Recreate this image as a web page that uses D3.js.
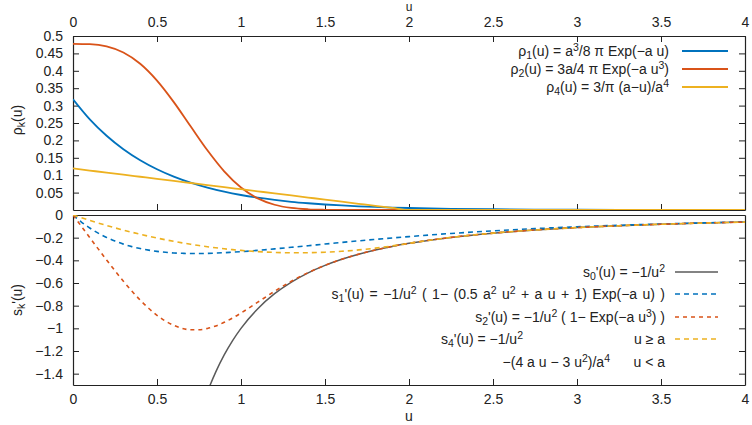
<!DOCTYPE html>
<html>
<head>
<meta charset="utf-8">
<script src="https://cdn.jsdelivr.net/npm/d3@7"></script>
<style>
    body { margin: 0; background: #fff; }
    svg { font-family: "Liberation Sans", Arial, Helvetica, sans-serif; }
    .axis text { font-size: 14px; fill: #222; }
    .axis line, .axis path { stroke: #222; }
    .label { font-size: 14px; fill: #222; }
    .legend text { font-size: 14px; fill: #222; }
</style>
</head>
<body>
<div id="chart"></div>
<script>
// --- data (a = 2) ---
const uTop = [0, 0.1, 0.2, 0.3, 0.4, 0.5, 0.6, 0.7, 0.8, 0.9, 1.0,
    1.1, 1.2, 1.3, 1.4, 1.5, 1.6, 1.7, 1.8, 1.9, 2.0,
    2.25, 2.5, 2.75, 3.0, 3.25, 3.5, 3.75, 4.0];
const rho1 = [0.3183, 0.2606, 0.2134, 0.1747, 0.1430, 0.1171, 0.0959, 0.0785, 0.0643, 0.0526, 0.0431,
    0.0353, 0.0289, 0.0236, 0.0194, 0.0158, 0.0130, 0.0106, 0.0087, 0.0071, 0.0058,
    0.0035, 0.0021, 0.0013, 0.0008, 0.0005, 0.0003, 0.0002, 0.0001];
const rho2 = [0.4775, 0.4765, 0.4699, 0.4524, 0.4201, 0.3718, 0.3100, 0.2404, 0.1715, 0.1111, 0.0646,
    0.0333, 0.0151, 0.0059, 0.0020, 0.0006, 0.0001, 0, 0, 0, 0,
    0, 0, 0, 0, 0, 0, 0, 0];
const rho4 = [0.1194, 0.1134, 0.1074, 0.1015, 0.0955, 0.0895, 0.0836, 0.0776, 0.0716, 0.0657, 0.0597,
    0.0537, 0.0477, 0.0418, 0.0358, 0.0298, 0.0239, 0.0179, 0.0119, 0.0060, 0,
    0, 0, 0, 0, 0, 0, 0, 0];

const uBot = [0, 0.05, 0.1, 0.15, 0.2, 0.25, 0.3, 0.35, 0.4, 0.45, 0.5,
    0.55, 0.6, 0.65, 0.7, 0.75, 0.8, 0.85, 0.9, 0.95, 1.0,
    1.1, 1.2, 1.3, 1.4, 1.5, 1.6, 1.7, 1.8, 1.9, 2.0,
    2.25, 2.5, 2.75, 3.0, 3.25, 3.5, 3.75, 4.0];
const s0 = [null, null, null, null, null, null, null, null, null, null, null,
    null, null, null, null, -1.7778, -1.5625, -1.3841, -1.2346, -1.1080, -1.0,
    -0.8264, -0.6944, -0.5917, -0.5102, -0.4444, -0.3906, -0.3460, -0.3086, -0.2770, -0.25,
    -0.1975, -0.16, -0.1322, -0.1111, -0.0947, -0.0816, -0.0711, -0.0625];
const s1 = [0, -0.0619, -0.1148, -0.160, -0.198, -0.230, -0.257, -0.279, -0.296, -0.310, -0.321,
    -0.329, -0.335, -0.338, -0.340, -0.340, -0.3385, -0.336, -0.3326, -0.328, -0.3233,
    -0.312, -0.299, -0.285, -0.271, -0.256, -0.242, -0.228, -0.215, -0.2025, -0.1905,
    -0.163, -0.140, -0.1205, -0.1042, -0.0906, -0.0792, -0.0697, -0.0616];
const s2 = [0, -0.100, -0.1998, -0.299, -0.397, -0.492, -0.584, -0.671, -0.751, -0.823, -0.885,
    -0.936, -0.974, -1.000, -1.013, -1.013, -1.001, -0.979, -0.947, -0.909, -0.865,
    -0.769, -0.673, -0.584, -0.508, -0.444, -0.3905, -0.346, -0.3086, -0.2770, -0.25,
    -0.1975, -0.16, -0.1322, -0.1111, -0.0947, -0.0816, -0.0711, -0.0625];
const s4 = [0, -0.0245, -0.0481, -0.0708, -0.0925, -0.1133, -0.1331, -0.1520, -0.17, -0.1870, -0.2031,
    -0.2183, -0.2325, -0.2458, -0.2581, -0.2695, -0.28, -0.2895, -0.2981, -0.3058, -0.3125,
    -0.3231, -0.33, -0.3331, -0.3325, -0.3281, -0.32, -0.3081, -0.2925, -0.2731, -0.25,
    -0.1975, -0.16, -0.1322, -0.1111, -0.0947, -0.0816, -0.0711, -0.0625];

const xTicks = [0, 0.5, 1, 1.5, 2, 2.5, 3, 3.5, 4];
const yTicksTop = [0.05, 0.1, 0.15, 0.2, 0.25, 0.3, 0.35, 0.4, 0.45, 0.5];
const yTicksBot = [0, -0.2, -0.4, -0.6, -0.8, -1, -1.2, -1.4];

// legend labels: [text, "sub"|"sup"|undefined]
const labelsTop = [
    [["ρ"], ["1", "sub"], ["(u) = a"], ["3", "sup"], ["/8 π Exp(−a u)"]],
    [["ρ"], ["2", "sub"], ["(u) = 3a/4 π Exp(−a u"], ["3", "sup"], [")"]],
    [["ρ"], ["4", "sub"], ["(u) = 3/π (a−u)/a"], ["4", "sup"]]
];
const labelsBot = [
    [["s"], ["0", "sub"], ["'(u) = −1/u"], ["2", "sup"]],
    [["s"], ["1", "sub"], ["'(u) = −1/u"], ["2", "sup"], [" ( 1− (0.5 a"], ["2", "sup"], [" u"], ["2", "sup"], [" + a u + 1) Exp(−a u) )"]],
    [["s"], ["2", "sub"], ["'(u) = −1/u"], ["2", "sup"], [" ( 1− Exp(−a u"], ["3", "sup"], [") )"]],
    [["s"], ["4", "sub"], ["'(u) = −1/u"], ["2", "sup"]]
];
const labelS4b = [["−(4 a u − 3 u"], ["2", "sup"], [")/a"], ["4", "sup"]];

const W = 752, H = 425;
const colors = {blue: "#0072bd", red: "#d95319", yellow: "#edb120", gray: "#5a5a5a"};

function richText(sel, parts, x, y, anchor) {
    let t = sel.append("text").attr("x", x).attr("y", y).attr("text-anchor", anchor || "end");
    let cur = 0;
    parts.forEach(function(p) {
        let target = p[1] === "sub" ? 3 : (p[1] === "sup" ? -5 : 0);
        let ts = t.append("tspan").attr("dy", target - cur).text(p[0]);
        if (p[1]) ts.style("font-size", "10.5px");
        cur = target;
    });
    return t;
}

const svg = d3.select("#chart").append("svg")
    .attr("width", W).attr("height", H);

const x = d3.scaleLinear().domain([0, 4]).range([73, 745]);
const yTop = d3.scaleLinear().domain([0, 0.5]).range([210, 36]);
const yBot = d3.scaleLinear().domain([-1.5, 0]).range([385, 215]);
const fmt = d3.format("~g");

// clip regions
let defs = svg.append("defs");
defs.append("clipPath").attr("id", "clipTop").append("rect")
    .attr("x", 73).attr("y", 36).attr("width", 672).attr("height", 174);
defs.append("clipPath").attr("id", "clipBot").append("rect")
    .attr("x", 73).attr("y", 215).attr("width", 672).attr("height", 170);

// --- top panel axes ---
svg.append("g").attr("class", "axis").attr("transform", "translate(0,36)")
    .call(d3.axisTop(x).tickValues(xTicks).tickFormat(fmt).tickSize(-6).tickSizeOuter(0).tickPadding(9));
svg.append("g").attr("class", "axis").attr("transform", "translate(0,210)")
    .call(d3.axisBottom(x).tickValues(xTicks).tickFormat("").tickSize(-6).tickSizeOuter(0));
svg.append("g").attr("class", "axis").attr("transform", "translate(73,0)")
    .call(d3.axisLeft(yTop).tickValues(yTicksTop).tickFormat(fmt).tickSize(-6).tickSizeOuter(0).tickPadding(10));
svg.append("g").attr("class", "axis").attr("transform", "translate(745,0)")
    .call(d3.axisRight(yTop).tickValues(yTicksTop).tickFormat("").tickSize(-6).tickSizeOuter(0));

// --- bottom panel axes ---
svg.append("g").attr("class", "axis").attr("transform", "translate(0,385)")
    .call(d3.axisBottom(x).tickValues(xTicks).tickFormat(fmt).tickSize(-6).tickSizeOuter(0).tickPadding(9));
svg.append("g").attr("class", "axis").attr("transform", "translate(0,215)")
    .call(d3.axisTop(x).tickValues([]).tickSizeOuter(0));
svg.append("g").attr("class", "axis").attr("transform", "translate(73,0)")
    .call(d3.axisLeft(yBot).tickValues(yTicksBot).tickFormat(fmt).tickSize(-6).tickSizeOuter(0).tickPadding(10));
svg.append("g").attr("class", "axis").attr("transform", "translate(745,0)")
    .call(d3.axisRight(yBot).tickValues(yTicksBot).tickFormat("").tickSize(-6).tickSizeOuter(0));

svg.selectAll(".axis .domain").attr("stroke-width", 1.2);

// axis titles
svg.append("text").attr("class", "label").attr("x", x(2)).attr("y", 11)
    .attr("text-anchor", "middle").style("font-size", "12px").text("u");
svg.append("text").attr("class", "label").attr("x", x(2)).attr("y", 421)
    .attr("text-anchor", "middle").text("u");
richText(svg.append("g").attr("class", "label").attr("transform", "translate(22,120) rotate(-90)"),
    [["ρ"], ["k", "sub"], ["(u)"]], 0, 0, "middle").attr("class", "label");
richText(svg.append("g").attr("class", "label").attr("transform", "translate(22,300) rotate(-90)"),
    [["s"], ["k", "sub"], ["'(u)"]], 0, 0, "middle").attr("class", "label");

// --- curves ---
function drawSeries(clip, xs, ys, yScale, color, dash, width) {
    let pts = xs.map(function(u, i) { return [u, ys[i]]; });
    let line = d3.line()
        .defined(function(d) { return d[1] !== null; })
        .x(function(d) { return x(d[0]); })
        .y(function(d) { return yScale(d[1]); })
        .curve(d3.curveMonotoneX);
    svg.append("path")
        .attr("clip-path", "url(#" + clip + ")")
        .attr("d", line(pts))
        .attr("fill", "none")
        .attr("stroke", color)
        .attr("stroke-width", width)
        .attr("stroke-dasharray", dash);
}

const topSeries = [[rho1, colors.blue], [rho2, colors.red], [rho4, colors.yellow]];
topSeries.forEach(function(s) { drawSeries("clipTop", uTop, s[0], yTop, s[1], null, 1.8); });

const botSeries = [[s0, colors.gray, null, 1.5], [s1, colors.blue, "5,4", 1.6],
    [s2, colors.red, "4,4", 1.6], [s4, colors.yellow, "5,4", 1.6]];
botSeries.forEach(function(s) { drawSeries("clipBot", uBot, s[0], yBot, s[1], s[2], s[3]); });

// --- legends ---
let legTop = svg.append("g").attr("class", "legend");
const legTopY = [51, 69, 87];
labelsTop.forEach(function(parts, i) {
    richText(legTop, parts, 669, legTopY[i] + 5);
    legTop.append("line").attr("x1", 682).attr("x2", 728)
        .attr("y1", legTopY[i]).attr("y2", legTopY[i])
        .attr("stroke", topSeries[i][1]).attr("stroke-width", 1.8);
});

let legBot = svg.append("g").attr("class", "legend");
const legBotY = [272, 294, 317, 339, 362];
labelsBot.forEach(function(parts, i) {
    richText(legBot, parts, i === 3 ? 523 : 665, legBotY[i] + 5).attr("word-spacing", i === 1 ? 1.5 : 0);
    legBot.append("line").attr("x1", 675).attr("x2", 718)
        .attr("y1", legBotY[i]).attr("y2", legBotY[i])
        .attr("stroke", botSeries[i][1]).attr("stroke-width", 1.6)
        .attr("stroke-dasharray", botSeries[i][2]);
});
richText(legBot, [["u ≥ a"]], 665, legBotY[3] + 5);
richText(legBot, labelS4b, 610, legBotY[4] + 5);
richText(legBot, [["u < a"]], 665, legBotY[4] + 5);
</script>
</body>
</html>
